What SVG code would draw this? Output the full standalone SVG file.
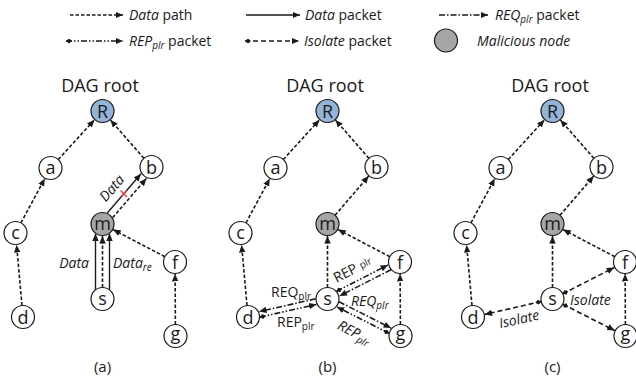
<svg xmlns="http://www.w3.org/2000/svg" width="636" height="383" viewBox="0 0 636 383">
<defs>
<marker id="arr" markerUnits="userSpaceOnUse" markerWidth="9" markerHeight="7" refX="7.5" refY="3.25" orient="auto"><path d="M0,0 L7.5,3.25 L0,6.5 z" fill="#1a1a1a"/></marker>
<marker id="dia" markerUnits="userSpaceOnUse" markerWidth="7" markerHeight="5" refX="0" refY="2.5" orient="auto"><path d="M0,2.5 L3,0 L6,2.5 L3,5 z" fill="#1a1a1a"/></marker>
<style>
.n circle{fill:#fff;stroke:#1a1a1a;stroke-width:1.2}
.n text{font-family:"Open Sans",sans-serif;font-size:18px;text-anchor:middle;fill:#1a1a1a}
.n.root circle{fill:#95b3d7}
.n.mal circle{fill:#a6a6a6}
.e{fill:none;stroke:#1a1a1a;stroke-width:1.6}
.dp{stroke-dasharray:3.5 2;marker-end:url(#arr)}
.sp{stroke-width:1.4;marker-end:url(#arr)}
.rq{stroke-dasharray:6 2 1.5 2;marker-end:url(#arr)}
.rp{stroke-dasharray:6 2 1.5 2 1.5 2;marker-end:url(#arr);marker-start:url(#dia)}
.is{stroke-dasharray:5 3;marker-end:url(#arr);marker-start:url(#dia)}
.t{font-family:"Open Sans",sans-serif;font-size:14px;fill:#1a1a1a}
.i{font-style:italic}
.title{font-family:"Open Sans",sans-serif;font-size:18px;fill:#1a1a1a;text-anchor:middle}
.cap{font-family:"Open Sans",sans-serif;font-size:15px;fill:#1a1a1a;text-anchor:middle}
.sub{font-size:10px}
</style>
</defs>
<rect width="636" height="383" fill="#fff"/>

<g id="legend">
<line class="e dp" x1="70" y1="15" x2="123" y2="15"/>
<text class="t" x="129" y="20"><tspan class="i">Data</tspan> path</text>
<line class="e sp" x1="246" y1="15" x2="300" y2="15"/>
<text class="t" x="305" y="20"><tspan class="i">Data</tspan> packet</text>
<line class="e rq" x1="439" y1="15" x2="488" y2="15"/>
<text class="t" x="495" y="20"><tspan class="i">REQ</tspan><tspan class="i sub" dy="3">plr</tspan><tspan dy="-3"> packet</tspan></text>
<line class="e rp" x1="66" y1="41" x2="123" y2="41"/>
<text class="t" x="129" y="46"><tspan class="i">REP</tspan><tspan class="i sub" dy="3">plr</tspan><tspan dy="-3"> packet</tspan></text>
<line class="e is" x1="245" y1="41" x2="299" y2="41"/>
<text class="t" x="304" y="46"><tspan class="i">Isolate</tspan> packet</text>
<circle cx="446" cy="40.5" r="11.5" fill="#a6a6a6" stroke="#1a1a1a" stroke-width="1.2"/>
<text class="t i" x="477" y="46">Malicious node</text>
</g>

<!-- Panel (a) -->
<g id="panel-a">
<text class="title" x="100" y="92">DAG root</text>
<text class="cap" x="102.5" y="372">(a)</text>
<g id="a-connectors">
<line class="e dp" x1="58.25" y1="159.5" x2="94.4" y2="119.9"/>
<line class="e dp" x1="143.9" y1="158.3" x2="110.4" y2="120"/>
<line class="e dp" x1="20.95" y1="222.9" x2="44.8" y2="178.6"/>
<line class="e dp" x1="22" y1="305.5" x2="16.6" y2="245"/>
<line class="e sp" x1="107.3" y1="213" x2="141" y2="173.8"/>
<line class="e dp" x1="112.7" y1="217.6" x2="146.4" y2="178.4"/>
<line class="e dp" x1="164.8" y1="256.7" x2="113.1" y2="229.6"/>
<line class="e dp" x1="175.4" y1="324.5" x2="175.1" y2="274"/>
<line class="e sp" x1="95.5" y1="289.9" x2="95.5" y2="233.6"/>
<line class="e dp" x1="102.5" y1="287.5" x2="102.5" y2="236"/>
<line class="e sp" x1="109.5" y1="289.9" x2="109.5" y2="233.6"/>
<path d="M120.5,190.5 L127,197 M127,190.5 L120.5,197" stroke="#e8403a" stroke-width="1.3" fill="none"/>
<text class="t i" text-anchor="middle" transform="translate(124.2,193.4) rotate(-49.3)" x="-4" y="-8">Data</text>
<text class="t i" text-anchor="end" x="89" y="268">Data</text>
<text class="t i" x="113" y="268">Data<tspan class="sub" dy="3">re</tspan></text>
</g>
<g id="a-R" class="n root"><circle cx="102.5" cy="111" r="11.5"/><text x="102.5" y="117.5">R</text></g>
<g id="a-a" class="n"><circle cx="50.5" cy="168" r="11.5"/><text x="50.5" y="173.5">a</text></g>
<g id="a-b" class="n"><circle cx="151.5" cy="167" r="11.5"/><text x="151.5" y="173.5">b</text></g>
<g id="a-m" class="n mal"><circle cx="102.5" cy="224" r="11.5"/><text x="102.5" y="229.5">m</text></g>
<g id="a-c" class="n"><circle cx="15.5" cy="233" r="11.5"/><text x="15.5" y="238.5">c</text></g>
<g id="a-f" class="n"><circle cx="175" cy="262" r="11.5"/><text x="175" y="268.5">f</text></g>
<g id="a-s" class="n"><circle cx="102.5" cy="299" r="11.5"/><text x="102.5" y="304.5">s</text></g>
<g id="a-d" class="n"><circle cx="23" cy="317" r="11.5"/><text x="23" y="323.5">d</text></g>
<g id="a-g" class="n"><circle cx="175.5" cy="336" r="11.5"/><text x="175.5" y="340">g</text></g>
</g>

<!-- Panel (b) -->
<g id="panel-b" transform="translate(225,0)">
<text class="title" x="100" y="92">DAG root</text>
<text class="cap" x="102.5" y="372">(b)</text>
<g id="b-connectors">
<line class="e dp" x1="58.25" y1="159.5" x2="94.4" y2="119.9"/>
<line class="e dp" x1="143.9" y1="158.3" x2="110.4" y2="120"/>
<line class="e dp" x1="20.95" y1="222.9" x2="44.8" y2="178.6"/>
<line class="e dp" x1="22" y1="305.5" x2="16.6" y2="245"/>
<line class="e dp" x1="110" y1="215.3" x2="143.7" y2="176.1"/>
<line class="e dp" x1="164.8" y1="256.7" x2="113.1" y2="229.6"/>
<line class="e dp" x1="175.4" y1="324.5" x2="175.1" y2="274"/>
<line class="e dp" x1="102.5" y1="287.5" x2="102.5" y2="236"/>
<line class="e rq" x1="90.7" y1="298.8" x2="34.1" y2="311.6"/>
<line class="e rp" x1="34.8" y1="317.2" x2="91.4" y2="304.4"/>
<line class="e rp" x1="111.5" y1="291.3" x2="163" y2="265"/>
<line class="e rq" x1="166" y1="269.7" x2="114.5" y2="296"/>
<line class="e rq" x1="114" y1="301.7" x2="166.1" y2="328.1"/>
<line class="e rp" x1="164" y1="333.3" x2="111.9" y2="306.9"/>
<text class="t" x="46" y="297">REQ<tspan class="sub" dy="3">plr</tspan></text>
<text class="t" x="52" y="327">REP<tspan class="sub" dy="3">plr</tspan></text>
<text class="t" text-anchor="middle" transform="translate(128,270) rotate(-27)" x="0" y="4">REP <tspan class="sub" dy="-1">plr</tspan></text>
<text class="t i" x="126" y="306">REQ<tspan class="sub" dy="3">plr</tspan></text>
<text class="t i" text-anchor="middle" transform="translate(129,333) rotate(27)" x="0" y="4">REP<tspan class="sub" dy="3">plr</tspan></text>
</g>
<g id="b-R" class="n root"><circle cx="102.5" cy="111" r="11.5"/><text x="102.5" y="117.5">R</text></g>
<g id="b-a" class="n"><circle cx="50.5" cy="168" r="11.5"/><text x="50.5" y="173.5">a</text></g>
<g id="b-b" class="n"><circle cx="151.5" cy="167" r="11.5"/><text x="151.5" y="173.5">b</text></g>
<g id="b-m" class="n mal"><circle cx="102.5" cy="224" r="11.5"/><text x="102.5" y="229.5">m</text></g>
<g id="b-c" class="n"><circle cx="15.5" cy="233" r="11.5"/><text x="15.5" y="238.5">c</text></g>
<g id="b-f" class="n"><circle cx="175" cy="262" r="11.5"/><text x="175" y="268.5">f</text></g>
<g id="b-s" class="n"><circle cx="102.5" cy="299" r="11.5"/><text x="102.5" y="304.5">s</text></g>
<g id="b-d" class="n"><circle cx="23" cy="317" r="11.5"/><text x="23" y="323.5">d</text></g>
<g id="b-g" class="n"><circle cx="175.5" cy="336" r="11.5"/><text x="175.5" y="340">g</text></g>
</g>

<!-- Panel (c) -->
<g id="panel-c" transform="translate(450,0)">
<text class="title" x="100" y="92">DAG root</text>
<text class="cap" x="102.5" y="372">(c)</text>
<g id="c-connectors">
<line class="e dp" x1="58.25" y1="159.5" x2="94.4" y2="119.9"/>
<line class="e dp" x1="143.9" y1="158.3" x2="110.4" y2="120"/>
<line class="e dp" x1="20.95" y1="222.9" x2="44.8" y2="178.6"/>
<line class="e dp" x1="22" y1="305.5" x2="16.6" y2="245"/>
<line class="e dp" x1="110" y1="215.3" x2="143.7" y2="176.1"/>
<line class="e dp" x1="164.8" y1="256.7" x2="113.1" y2="229.6"/>
<line class="e dp" x1="175.4" y1="324.5" x2="175.1" y2="274"/>
<line class="e dp" x1="102.5" y1="287.5" x2="102.5" y2="236"/>
<line class="e is" x1="91.3" y1="301.5" x2="34.7" y2="314.4"/>
<line class="e is" x1="112.7" y1="293.8" x2="164.3" y2="267.5"/>
<line class="e is" x1="112.8" y1="304.2" x2="164.8" y2="330.6"/>
<text class="t i" x="120" y="305">Isolate</text>
<text class="t i" text-anchor="middle" transform="translate(69,319) rotate(-13)" x="0" y="5">Isolate</text>
</g>
<g id="c-R" class="n root"><circle cx="102.5" cy="111" r="11.5"/><text x="102.5" y="117.5">R</text></g>
<g id="c-a" class="n"><circle cx="50.5" cy="168" r="11.5"/><text x="50.5" y="173.5">a</text></g>
<g id="c-b" class="n"><circle cx="151.5" cy="167" r="11.5"/><text x="151.5" y="173.5">b</text></g>
<g id="c-m" class="n mal"><circle cx="102.5" cy="224" r="11.5"/><text x="102.5" y="229.5">m</text></g>
<g id="c-c" class="n"><circle cx="15.5" cy="233" r="11.5"/><text x="15.5" y="238.5">c</text></g>
<g id="c-f" class="n"><circle cx="175" cy="262" r="11.5"/><text x="175" y="268.5">f</text></g>
<g id="c-s" class="n"><circle cx="102.5" cy="299" r="11.5"/><text x="102.5" y="304.5">s</text></g>
<g id="c-d" class="n"><circle cx="23" cy="317" r="11.5"/><text x="23" y="323.5">d</text></g>
<g id="c-g" class="n"><circle cx="175.5" cy="336" r="11.5"/><text x="175.5" y="340">g</text></g>
</g>
</svg>
